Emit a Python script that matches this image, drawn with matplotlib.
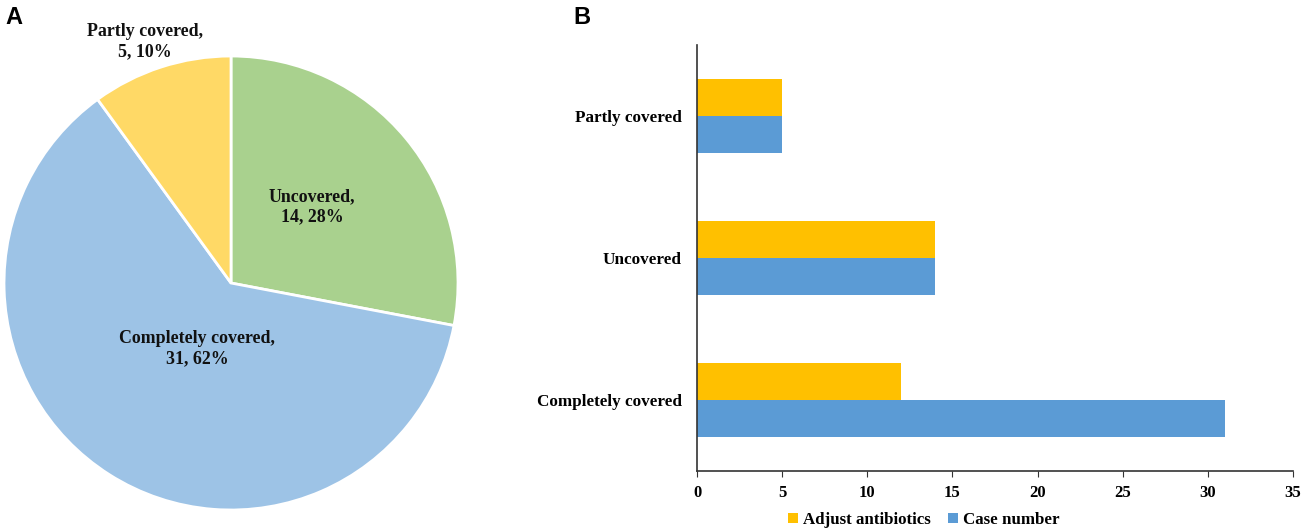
import numpy as np
import matplotlib
matplotlib.use('Agg')
import matplotlib.pyplot as plt

plt.rcParams['font.family'] = 'Liberation Serif'
plt.rcParams['font.weight'] = 'bold'

# pie data (clockwise from top)
pie_names = ['Uncovered', 'Completely covered', 'Partly covered']
pie_counts = [14, 31, 5]
pie_colors = ['#A9D18E', '#9DC3E6', '#FFD966']
# label offsets from centre, in radius units
label_pos = [(0.357, 0.335), (-0.15, -0.29), (-0.379, 1.062)]

# bar data (bottom to top)
categories = ['Completely covered', 'Uncovered', 'Partly covered']
adjust_antibiotics = [12, 14, 5]
case_number = [31, 14, 5]

fig = plt.figure(figsize=(13.05, 5.29), dpi=100)

# panel A
ax1 = fig.add_axes([0.00307, 0.0359, 0.3479, 0.8582])
ax1.pie(pie_counts, colors=pie_colors, startangle=90, counterclock=False,
        wedgeprops=dict(edgecolor='white', linewidth=2))
ax1.set_xlim(-1, 1)
ax1.set_ylim(-1, 1)
total = sum(pie_counts)
for name, n, (dx, dy) in zip(pie_names, pie_counts, label_pos):
    pct = round(100 * n / total)
    ax1.text(dx, dy, f'{name},\n{n}, {pct}%', ha='center', va='center',
             fontsize=12.9, fontweight='bold', linespacing=1.25, color='#111111')

# panel B
ax2 = fig.add_axes([0.5341, 0.1096, 0.4567, 0.8053])
y = np.arange(len(categories))
h = 0.26
ax2.barh(y + h / 2, adjust_antibiotics, height=h, color='#FFC000', label='Adjust antibiotics')
ax2.barh(y - h / 2, case_number, height=h, color='#5B9BD5', label='Case number')
ax2.set_xlim(0, 35)
ax2.set_ylim(-0.5, 2.5)
ax2.set_xticks(range(0, 36, 5))
ax2.set_yticks(y)
ax2.set_yticklabels(categories)
ax2.tick_params(axis='y', length=0, pad=11, labelsize=12.3)
ax2.tick_params(axis='x', length=4, direction='out', pad=6, labelsize=12, color='#333333')
for s in ['top', 'right']:
    ax2.spines[s].set_visible(False)
for s in ['left', 'bottom']:
    ax2.spines[s].set_color('#333333')
    ax2.spines[s].set_linewidth(1.2)

fig.legend(loc='center', bbox_to_anchor=(924 / 1305, 1 - 520 / 529), ncol=2,
           frameon=False, handlelength=0.6, handleheight=0.6, handletextpad=0.3,
           columnspacing=1.0, prop=dict(family='Liberation Serif', weight='bold', size=12.2))

fig.text(0.004, 1 - 6 / 529, 'A', fontsize=17, fontweight='bold', family='Liberation Sans', va='top')
fig.text(0.439, 1 - 6 / 529, 'B', fontsize=17, fontweight='bold', family='Liberation Sans', va='top')

fig.savefig('out.png', dpi=100)
